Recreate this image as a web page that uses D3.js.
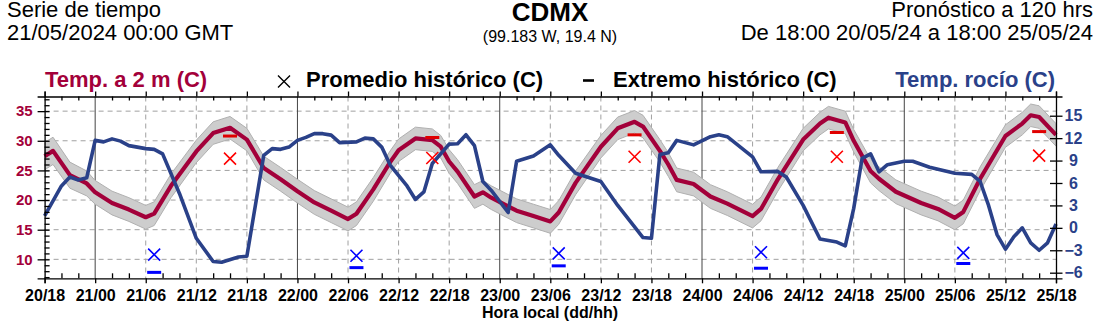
<!DOCTYPE html>
<html lang="es">
<head>
<meta charset="UTF-8">
<title>CDMX - Serie de tiempo</title>
<script src="https://d3js.org/d3.v7.min.js"></script>
<style>
    body { margin: 0; background: #fff; font-family: Arial, "Liberation Sans", sans-serif; }
    svg { display: block; }
    .axis path, .axis line { stroke: #000; stroke-width: 1.3; }
    .axis text { font-size: 16px; font-weight: bold; font-family: Arial, "Liberation Sans", sans-serif; }
</style>
</head>
<body>
<svg id="chart" width="1100" height="324"></svg>
<script>
// Pronóstico horario (horas desde 20/05 18:00 local)
const tempHours = [0, 1, 3, 5, 6, 8, 10, 12, 13, 15, 18, 20, 22, 24, 26, 28, 30, 32, 34, 36, 37, 39, 41, 42, 44, 46, 47, 48, 49, 51, 52, 53, 56, 58, 60, 61, 63, 66, 68, 70, 71, 73, 74, 75, 77, 79, 81, 84, 85, 87, 90, 92, 93, 95, 96, 98, 99, 101, 104, 106, 108, 109, 111, 114, 116, 117, 118, 120];
const tempValues = [27.4, 28.3, 24.2, 22.8, 21.3, 19.5, 18.4, 17.1, 17.7, 22.4, 28.2, 31.3, 32.2, 30.2, 25.4, 23.5, 21.5, 19.6, 18.2, 16.8, 17.7, 21.8, 26.4, 28.4, 30.4, 30.1, 29.0, 26.5, 24.8, 20.6, 21.3, 20.4, 18.2, 17.3, 16.4, 17.9, 22.9, 29.0, 32.1, 33.2, 32.4, 28.3, 26.0, 23.4, 22.7, 20.6, 19.4, 17.3, 18.5, 23.5, 30.2, 32.9, 33.9, 33.1, 30.0, 24.9, 23.6, 21.4, 19.5, 18.5, 17.0, 18.0, 23.6, 30.8, 32.9, 34.3, 34.0, 31.0];
const tempSpread = [2.3, 2.3, 2.2, 2.1, 2.0, 2.0, 2.0, 2.0, 2.0, 2.0, 1.9, 1.9, 1.9, 1.9, 2.0, 2.0, 2.0, 2.0, 2.0, 2.0, 2.0, 2.0, 1.9, 1.9, 1.9, 1.9, 1.9, 2.0, 2.0, 2.0, 2.0, 2.0, 2.0, 2.0, 2.0, 2.0, 2.0, 1.9, 1.9, 1.9, 1.9, 1.9, 2.0, 2.0, 2.0, 2.0, 2.0, 2.0, 2.0, 2.0, 1.9, 1.9, 1.9, 1.9, 1.9, 2.0, 2.0, 2.0, 2.0, 2.0, 2.0, 2.0, 2.0, 1.9, 1.9, 1.9, 1.9, 1.9];

const dewHours = [0, 2, 3, 4, 5, 6, 7, 8, 9, 10, 12, 13, 14, 16, 18, 20, 21, 23, 24, 26, 27, 28, 29, 30, 31, 32, 33, 34, 35, 37, 38, 39, 40, 41, 43, 44, 45, 46, 48, 49, 50, 51, 52, 53, 55, 56, 58, 60, 61, 63, 66, 68, 71, 72, 73, 74, 75, 77, 79, 80, 81, 84, 85, 87, 88, 90, 92, 94, 95, 96, 97, 98, 99, 100, 102, 103, 105, 108, 110, 111, 112, 113, 114, 115, 116, 117, 118, 119, 120];
const dewValues = [1.6, 5.6, 6.8, 6.4, 6.7, 11.7, 11.5, 11.9, 11.6, 11.0, 10.6, 10.5, 9.9, 4.6, -1.4, -4.5, -4.6, -3.9, -3.8, 9.7, 10.6, 10.5, 10.8, 11.7, 12.1, 12.6, 12.6, 12.4, 11.4, 11.5, 12.0, 11.9, 10.8, 8.4, 5.6, 3.8, 4.8, 8.6, 11.2, 11.25, 12.45, 11.0, 6.2, 5.0, 2.05, 8.9, 9.6, 11.1, 9.7, 7.3, 6.2, 3.0, -1.3, -1.4, 9.8, 10.05, 11.7, 11.1, 12.2, 12.45, 12.2, 9.5, 7.5, 7.55, 6.8, 3.0, -1.5, -1.9, -2.4, 2.6, 9.3, 9.9, 7.5, 8.45, 8.9, 8.9, 8.1, 7.3, 7.15, 6.2, 3.0, -0.9, -2.85, -1.2, 0.0, -2.0, -3.0, -2.0, 0.5];

// Históricos de mínima (07 h) y máxima (16 h)
const minHours = [13, 37, 61, 85, 109];
const avgMin = [10.8, 10.6, 11.0, 11.2, 11.1];
const extMin = [7.8, 8.6, 8.9, 8.5, 9.3];
const maxHours = [22, 46, 70, 94, 118];
const avgMax = [27.0, 27.1, 27.3, 27.3, 27.5];
const extMax = [30.8, 30.55, 31.0, 31.4, 31.55];

const xTickLabels = ["20/18", "21/00", "21/06", "21/12", "21/18", "22/00", "22/06", "22/12", "22/18", "23/00", "23/06",
    "23/12", "23/18", "24/00", "24/06", "24/12", "24/18", "25/00", "25/06", "25/12", "25/18"];
const tempTicks = [10, 15, 20, 25, 30, 35];
const dewTicks = [-6, -3, 0, 3, 6, 9, 12, 15];

const RED = "#a3003a";
const BLUE = "#2a4189";

const svg = d3.select("#chart");
const pLeft = 44.6, pRight = 1056, pTop = 96.5, pBottom = 278.3;

const x = d3.scaleLinear().domain([0, 120]).range([pLeft, pRight]);
const yT = d3.scaleLinear().domain([6.8, 37.47]).range([pBottom, pTop]);
const yD = d3.scaleLinear().domain([-6.75, 17.57]).range([pBottom, pTop]);

// encabezado
const head = svg.append("g").style("font-family", "Arial, 'Liberation Sans', sans-serif");
head.append("text").attr("x", 7).attr("y", 17).attr("font-size", 22).text("Serie de tiempo");
head.append("text").attr("x", 7).attr("y", 39.5).attr("font-size", 22).text("21/05/2024 00:00 GMT");
head.append("text").attr("x", 550).attr("y", 21).attr("font-size", 26).attr("font-weight", "bold")
    .attr("text-anchor", "middle").text("CDMX");
head.append("text").attr("x", 550).attr("y", 42).attr("font-size", 16)
    .attr("text-anchor", "middle").text("(99.183 W, 19.4 N)");
head.append("text").attr("x", 1093).attr("y", 17).attr("font-size", 22)
    .attr("text-anchor", "end").text("Pronóstico a 120 hrs");
head.append("text").attr("x", 1093).attr("y", 39.5).attr("font-size", 22)
    .attr("text-anchor", "end").text("De 18:00 20/05/24 a 18:00 25/05/24");

// leyenda
const leg = svg.append("g").attr("font-size", 22).attr("font-weight", "bold");
leg.append("text").attr("x", 45).attr("y", 87).attr("fill", RED).text("Temp. a 2 m (C)");
leg.append("path").attr("d", "M278,75.5L290,87.5M290,75.5L278,87.5").attr("stroke", "#000").attr("stroke-width", 1.4);
leg.append("text").attr("x", 306).attr("y", 87).text("Promedio histórico (C)");
leg.append("line").attr("x1", 583).attr("x2", 594).attr("y1", 80.5).attr("y2", 80.5)
    .attr("stroke", "#000").attr("stroke-width", 2.6);
leg.append("text").attr("x", 613).attr("y", 87).text("Extremo histórico (C)");
leg.append("text").attr("x", 1055).attr("y", 87).attr("text-anchor", "end").attr("fill", BLUE).text("Temp. rocío (C)");

// rejilla
const majorHours = d3.range(0, 121, 6);
svg.append("g").selectAll("line.hgrid").data(tempTicks).join("line")
    .attr("x1", pLeft).attr("x2", pRight).attr("y1", d => yT(d)).attr("y2", d => yT(d))
    .attr("stroke", "#a0a0a0").attr("stroke-width", 1).attr("stroke-dasharray", "5,4");
svg.append("g").selectAll("line.vgrid").data(majorHours.slice(1, -1)).join("line")
    .attr("x1", d => x(d)).attr("x2", d => x(d)).attr("y1", pTop).attr("y2", pBottom)
    .attr("stroke", d => (d - 6) % 24 === 0 ? "#444" : "#a0a0a0")
    .attr("stroke-width", 1)
    .attr("stroke-dasharray", d => (d - 6) % 24 === 0 ? null : "5,4");

// banda de incertidumbre
const band = tempHours.map((h, i) => ({ h, lo: tempValues[i] - tempSpread[i], hi: tempValues[i] + tempSpread[i] }));
svg.append("path").datum(band)
    .attr("d", d3.area().x(d => x(d.h)).y0(d => yT(d.lo)).y1(d => yT(d.hi)))
    .attr("fill", "#cdcdcd").attr("stroke", "#b0b0b0").attr("stroke-width", 1);

// temperatura
svg.append("path").datum(tempHours.map((h, i) => [h, tempValues[i]]))
    .attr("d", d3.line().x(d => x(d[0])).y(d => yT(d[1])))
    .attr("fill", "none").attr("stroke", RED).attr("stroke-width", 4.2)
    .attr("stroke-linejoin", "round");

// punto de rocío
svg.append("path").datum(dewHours.map((h, i) => [h, dewValues[i]]))
    .attr("d", d3.line().x(d => x(d[0])).y(d => yD(d[1])))
    .attr("fill", "none").attr("stroke", BLUE).attr("stroke-width", 3.6)
    .attr("stroke-linejoin", "round");

// marcadores históricos
function crosses(hours, vals, color) {
    svg.append("g").selectAll("path").data(hours).join("path")
        .attr("d", (h, i) => {
            const cx = x(h), cy = yT(vals[i]), r = 6;
            return `M${cx - r},${cy - r}L${cx + r},${cy + r}M${cx + r},${cy - r}L${cx - r},${cy + r}`;
        })
        .attr("stroke", color).attr("stroke-width", 1.6).attr("fill", "none");
}
function dashes(hours, vals, color) {
    svg.append("g").selectAll("line").data(hours).join("line")
        .attr("x1", h => x(h) - 7).attr("x2", h => x(h) + 7)
        .attr("y1", (h, i) => yT(vals[i])).attr("y2", (h, i) => yT(vals[i]))
        .attr("stroke", color).attr("stroke-width", 3);
}
crosses(minHours, avgMin, "#0000ff");
dashes(minHours, extMin, "#0000ff");
crosses(maxHours, avgMax, "#ff0000");
dashes(maxHours, extMax, "#e00000");

// ejes
const minorHours = d3.range(0, 121, 2).filter(h => h % 6 !== 0);
svg.append("g").attr("class", "axis").attr("transform", `translate(0,${pBottom})`)
    .call(d3.axisBottom(x).tickValues(majorHours).tickSize(5).tickPadding(6.5)
        .tickFormat((d, i) => xTickLabels[i]));
svg.append("g").attr("class", "axis").attr("transform", `translate(0,${pBottom})`)
    .call(d3.axisBottom(x).tickValues(minorHours).tickSize(-5).tickFormat(""))
    .select(".domain").remove();

svg.append("g").attr("class", "axis").attr("transform", `translate(0,${pTop})`)
    .call(d3.axisTop(x).tickValues(majorHours).tickSize(5).tickFormat(""));
svg.append("g").attr("class", "axis").attr("transform", `translate(0,${pTop})`)
    .call(d3.axisTop(x).tickValues(minorHours).tickSize(-4).tickFormat(""))
    .select(".domain").remove();

const lAx = svg.append("g").attr("class", "axis").attr("transform", `translate(${pLeft},0)`)
    .call(d3.axisLeft(yT).tickValues(tempTicks).tickSize(7).tickPadding(5).tickFormat(d3.format("d")));
lAx.selectAll("text").attr("fill", RED).style("font-size", "15px");
lAx.selectAll(".tick line").attr("x2", 5).attr("x1", -7);
svg.append("g").attr("class", "axis").attr("transform", `translate(${pLeft},0)`)
    .call(d3.axisLeft(yT).tickValues(d3.range(7, 38).filter(v => v % 5 !== 0)).tickSize(-5).tickFormat(""))
    .select(".domain").remove();

const rAx = svg.append("g").attr("class", "axis").attr("transform", `translate(${pRight},0)`)
    .call(d3.axisRight(yD).tickValues(dewTicks).tickSize(6.5).tickPadding(4));
rAx.selectAll(".tick line").attr("x1", -6).attr("x2", 6.5);
rAx.selectAll("text").attr("fill", BLUE).attr("text-anchor", "middle").attr("x", 17.5);

svg.append("text").attr("x", 550).attr("y", 318).attr("text-anchor", "middle")
    .attr("font-size", 16).attr("font-weight", "bold").text("Hora local (dd/hh)");
</script>
</body>
</html>
